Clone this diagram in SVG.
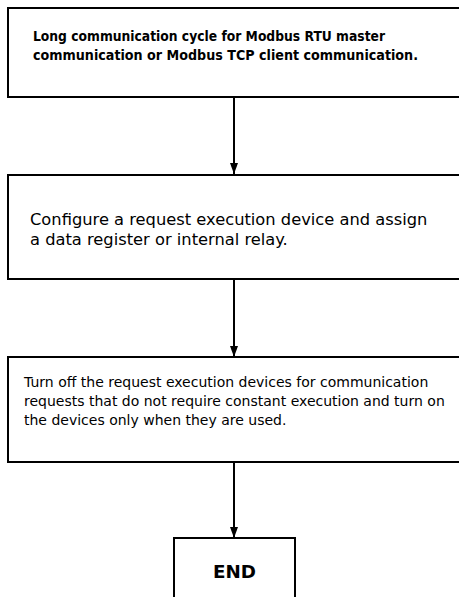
<svg xmlns="http://www.w3.org/2000/svg" width="459" height="597" viewBox="0 0 459 597">
<defs>
<marker id="ah" markerWidth="11" markerHeight="8" refX="11" refY="4" orient="auto" markerUnits="userSpaceOnUse" viewBox="0 0 11 8">
<path d="M0,0 L11,4 L0,8 Z" fill="#000"/>
</marker>
</defs>
<style>
.box{fill:#fff;stroke:#000;stroke-width:2}
.t{font-family:"DejaVu Sans","Liberation Sans",sans-serif;fill:#000}
.b{font-weight:bold}
.c{fill:none;stroke:#000;stroke-width:2}
</style>
<rect width="459" height="597" fill="#fff"/>
<g id="connectors">
<line class="c" x1="234" y1="97" x2="234" y2="174" marker-end="url(#ah)"/>
<line class="c" x1="234" y1="279" x2="234" y2="357" marker-end="url(#ah)"/>
<line class="c" x1="234" y1="462" x2="234" y2="538" marker-end="url(#ah)"/>
</g>
<g id="n1">
<rect class="box" x="8" y="8" width="460" height="89"/>
<text class="t b" x="33" y="41" font-size="14" textLength="352" lengthAdjust="spacingAndGlyphs">Long communication cycle for Modbus RTU master</text>
<text class="t b" x="33" y="60" font-size="14" textLength="385" lengthAdjust="spacingAndGlyphs">communication or Modbus TCP client communication.</text>
</g>
<g id="n2">
<rect class="box" x="8" y="175" width="460" height="104"/>
<text class="t" x="30" y="225" font-size="16.3">Configure a request execution device and assign</text>
<text class="t" x="30" y="245" font-size="16.3">a data register or internal relay.</text>
</g>
<g id="n3">
<rect class="box" x="8" y="357" width="460" height="105"/>
<text class="t" x="24" y="387" font-size="14">Turn off the request execution devices for communication</text>
<text class="t" x="24" y="406" font-size="14">requests that do not require constant execution and turn on</text>
<text class="t" x="24" y="425" font-size="14">the devices only when they are used.</text>
</g>
<g id="end">
<rect class="box" x="174" y="538" width="121" height="70"/>
<text class="t b" x="234.5" y="578" text-anchor="middle" font-size="17" textLength="43" lengthAdjust="spacingAndGlyphs">END</text>
</g>
</svg>
